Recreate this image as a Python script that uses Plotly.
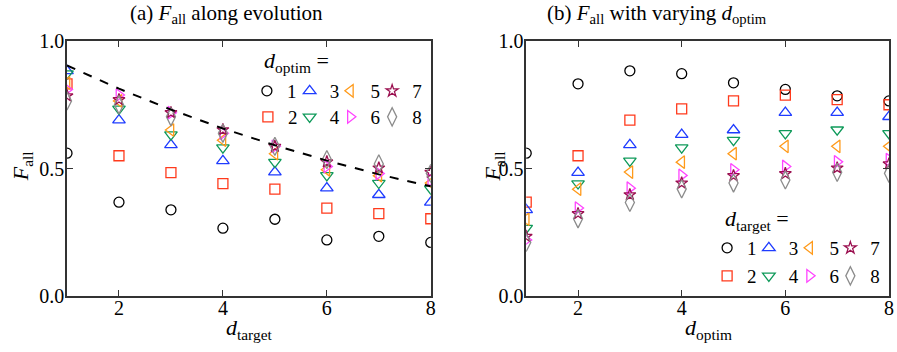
import plotly.graph_objects as go

# ---------------- data ----------------
d_values = [1, 2, 3, 4, 5, 6, 7, 8]          # d_target (panel a x) / d_optim (panel b x)
x_ticks = [2, 4, 6, 8]
y_ticks = [0.0, 0.5, 1.0]

# F_all for each d_optim (rows) as a function of d_target = 1..8
F_optim1 = [0.56, 0.368, 0.338, 0.266, 0.301, 0.22, 0.234, 0.21]
F_optim2 = [0.832, 0.55, 0.484, 0.441, 0.419, 0.345, 0.323, 0.303]
F_optim3 = [0.883, 0.69, 0.593, 0.53, 0.486, 0.423, 0.397, 0.367]
F_optim4 = [0.872, 0.734, 0.633, 0.582, 0.525, 0.473, 0.443, 0.42]
F_optim5 = [0.836, 0.765, 0.651, 0.611, 0.558, 0.495, 0.472, 0.443]
F_optim6 = [0.81, 0.788, 0.719, 0.638, 0.587, 0.508, 0.48, 0.455]
F_optim7 = [0.785, 0.77, 0.719, 0.652, 0.587, 0.526, 0.502, 0.485]
F_optim8 = [0.765, 0.75, 0.703, 0.638, 0.587, 0.535, 0.518, 0.481]

# dashed guide curve in panel (a)
guide_curve = [0.904, 0.813, 0.731, 0.657, 0.591, 0.531, 0.477, 0.43]

series_labels = ["1", "2", "3", "4", "5", "6", "7", "8"]
F_rows = [F_optim1, F_optim2, F_optim3, F_optim4, F_optim5, F_optim6, F_optim7, F_optim8]

# ---------------- styles ----------------
symbols = ["circle-open", "square-open", "triangle-up-open", "triangle-down-open",
           "triangle-left-open", "triangle-right-open", "star-open", "diamond-tall-open"]
colors = ["#000000", "#ff3a1c", "#1f3cff", "#0f9a5a",
          "#ff9a1a", "#ff44ff", "#9b1050", "#8c8c8c"]
sizes = [10, 10, 11, 11, 11, 11, 9, 13]

FONT = "Liberation Serif"
W, H = 897, 352
ML, MR, MT, MB = 67, 3, 41, 56
PW, PH = W - ML - MR, H - MT - MB


def px_to_paper(px, py):
    return (px - ML) / PW, (H - MB - py) / PH


# legend entry positions (symbol centre, px) for each panel
leg_a_x = [269, 270, 312, 312, 353, 353, 395, 395]
leg_a_y = [91, 117]
leg_b_x = [732, 732, 774, 774, 815, 815, 856, 856]
leg_b_y = [248, 276]

fig = go.Figure()


def legend_name(k):
    return "legend" if k == 1 else f"legend{k}"


# panel (a): F_all vs d_target, one series per d_optim
for i, (lab, row) in enumerate(zip(series_labels, F_rows)):
    fig.add_trace(go.Scatter(
        x=d_values, y=row, mode="markers", name=lab,
        marker=dict(symbol=symbols[i], color=colors[i], size=sizes[i],
                    line=dict(color=colors[i], width=1.3)),
        xaxis="x", yaxis="y", legend=legend_name(i + 1),
    ))
fig.add_trace(go.Scatter(
    x=d_values, y=guide_curve, mode="lines", showlegend=False,
    line=dict(color="black", width=2, dash="dash"),
    xaxis="x", yaxis="y",
))

# panel (b): F_all vs d_optim, one series per d_target (transpose)
for j, lab in enumerate(series_labels):
    col = [row[j] for row in F_rows]
    fig.add_trace(go.Scatter(
        x=d_values, y=col, mode="markers", name=lab,
        marker=dict(symbol=symbols[j], color=colors[j], size=sizes[j],
                    line=dict(color=colors[j], width=1.3)),
        xaxis="x2", yaxis="y2", legend=legend_name(9 + j),
    ))

axis_common = dict(
    showgrid=False, zeroline=False, showline=True, linecolor="#333333", linewidth=1.5,
    mirror="ticks", ticks="inside", ticklen=6, tickwidth=1.2, tickcolor="#333333",
    tickfont=dict(family=FONT, size=20, color="black"),
)

left_dom = [0, (433 - ML) / PW]
right_dom = [(529 - ML) / PW, 1]

fig.update_layout(
    width=W, height=H,
    margin=dict(l=ML, r=MR, t=MT, b=MB),
    paper_bgcolor="white", plot_bgcolor="white",
    font=dict(family=FONT, color="black"),
    xaxis=dict(domain=left_dom, range=[1, 8], tickvals=x_ticks, anchor="y",
               ticklabelstandoff=-7, **axis_common),
    yaxis=dict(domain=[0, 1], range=[0, 1], tickvals=y_ticks, tickformat=".1f",
               anchor="x", ticklabelstandoff=-3, **axis_common),
    xaxis2=dict(domain=right_dom, range=[1, 8], tickvals=x_ticks, anchor="y2",
                ticklabelstandoff=-7, **axis_common),
    yaxis2=dict(domain=[0, 1], range=[0, 1], tickvals=y_ticks, tickformat=".1f",
                anchor="x2", ticklabelstandoff=-3, **axis_common),
)

legend_common = dict(font=dict(family=FONT, size=19, color="black"),
                     bgcolor="rgba(0,0,0,0)", borderwidth=0,
                     xanchor="left", yanchor="middle", itemsizing="trace")

legends = {}
for k in range(8):
    lx, ly = px_to_paper(leg_a_x[k] - 21, leg_a_y[k % 2])
    legends[legend_name(k + 1)] = dict(x=lx, y=ly, **legend_common)
    lx, ly = px_to_paper(leg_b_x[k] - 21, leg_b_y[k % 2])
    legends[legend_name(9 + k)] = dict(x=lx, y=ly, **legend_common)
fig.update_layout(**legends)

annotations = []


def add_text(text, px, py, size, xanchor="center", angle=0):
    ax, ay = px_to_paper(px, py)
    annotations.append(dict(text=text, x=ax, y=ay, xref="paper", yref="paper",
                            xanchor=xanchor, yanchor="middle", showarrow=False,
                            textangle=angle,
                            font=dict(family=FONT, size=size, color="black")))


add_text("(a) <i>F</i><sub>all</sub> along evolution", 227, 14, 21)
add_text("(b) <i>F</i><sub>all</sub> with varying <i>d</i><sub>optim</sub>", 661, 14, 21)
add_text("<i>d</i><sub>target</sub>", 250, 329, 22)
add_text("<i>d</i><sub>optim</sub>", 712, 329, 22)
add_text("<i>F</i><sub>all</sub>", 22, 166, 22, angle=-90)
add_text("<i>F</i><sub>all</sub>", 497, 166, 22, angle=-90)
add_text("<i>d</i><sub>optim</sub> =", 263, 62, 22, xanchor="left")
add_text("<i>d</i><sub>target</sub> =", 727, 220, 22, xanchor="left")

fig.update_layout(annotations=annotations)

fig.write_html("out.html", post_script="document.body.style.margin='0';",
               config={"displayModeBar": False})
